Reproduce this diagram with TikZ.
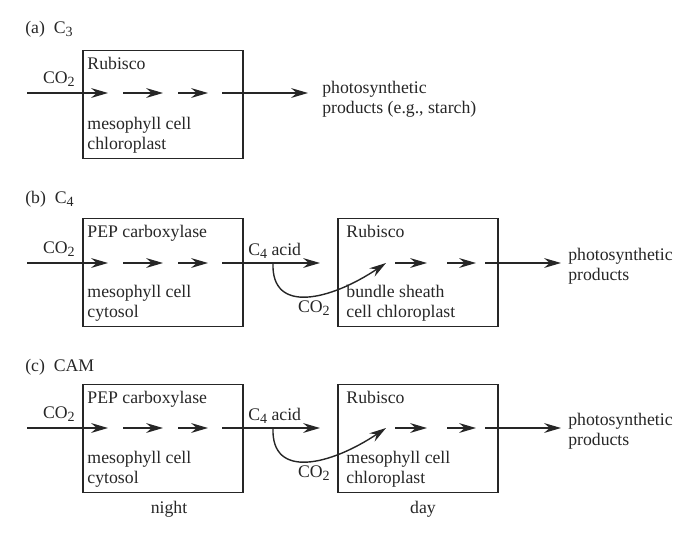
\documentclass[tikz,border=0pt]{standalone}
\usepackage{fontspec}
\setmainfont{Liberation Serif}
\usetikzlibrary{arrows.meta}
\newcommand\low[1]{\raisebox{-0.45ex}{\fontsize{10}{10}\selectfont #1}}

\begin{document}
\begin{tikzpicture}[x=0.025cm, y=-0.025cm]
    \tikzstyle{every node}=[inner sep=0pt, text=black!85, font=\fontsize{12.6}{14.2}\selectfont]
    \tikzstyle{cell}=[draw=black!85, line width=1.1pt, minimum width=4cm, minimum height=2.7cm]
    \tikzstyle{flow}=[black!85, line width=1pt, -{Stealth[length=12pt, width=7pt, inset=4pt]}]
    \useasboundingbox (0,0) rectangle (698,534);

    % the cells
    \node[cell] (mesoA) at (163,104.5) {};
    \node[cell] (mesoB) at (163,272.5) {};
    \node[cell] (sheathB) at (418,272.5) {};
    \node[cell] (mesoC) at (163,438.5) {};
    \node[cell] (chlorC) at (418,438.5) {};

    \node[anchor=base west] (titleA) at (25,33) {(a)\enspace C\low{3}};
    \node[anchor=base west] (titleB) at (25,203) {(b)\enspace C\low{4}};
    \node[anchor=base west] (titleC) at (25,371) {(c)\enspace CAM};

    \node[anchor=base west] (enzA) at ([shift={(5,20)}]mesoA.north west) {Rubisco};
    \node[anchor=base west, align=left] (siteA) at ([shift={(5,100)}]mesoA.north west) {mesophyll cell\\chloroplast};
    \node[anchor=base west] (enzB) at ([shift={(5,20)}]mesoB.north west) {PEP carboxylase};
    \node[anchor=base west, align=left] (siteB) at ([shift={(5,100)}]mesoB.north west) {mesophyll cell\\cytosol};
    \node[anchor=base west] (enzBB) at ([shift={(9,20)}]sheathB.north west) {Rubisco};
    \node[anchor=base west, align=left] (siteBB) at ([shift={(9,100)}]sheathB.north west) {bundle sheath\\cell chloroplast};
    \node[anchor=base west] (enzC) at ([shift={(5,20)}]mesoC.north west) {PEP carboxylase};
    \node[anchor=base west, align=left] (siteC) at ([shift={(5,100)}]mesoC.north west) {mesophyll cell\\cytosol};
    \node[anchor=base west] (enzCC) at ([shift={(9,20)}]chlorC.north west) {Rubisco};
    \node[anchor=base west, align=left] (siteCC) at ([shift={(9,100)}]chlorC.north west) {mesophyll cell\\chloroplast};

    \node[anchor=base] (night) at (169,513) {night};
    \node[anchor=base] (day) at (423,513) {day};

    % first cell, all three rows
    \foreach \r/\y in {a/93, b/263, c/428} {
        \foreach \i/\x in {0/27, 1/108, 2/123, 3/163, 4/178, 5/208, 6/222}
            \coordinate (\r\i) at (\x,\y);
        \draw[flow] (\r0) -- (\r1);
        \draw[flow] (\r2) -- (\r3);
        \draw[flow] (\r4) -- (\r5);
        \node[anchor=base east] (co\r) at (75,\y-10) {CO\low{2}};
    }

    \coordinate (a7) at (308,93);
    \draw[flow] (a6) -- (a7);
    \node[anchor=base west, align=left] (prodA) at (322,113) {photosynthetic\\products (e.g., starch)};

    % second cell, rows b and c
    \foreach \r/\y in {b/263, c/428} {
        \foreach \i/\x in {7/320, 8/273, 9/386, 10/395, 11/427, 12/447, 13/476, 14/485, 15/561}
            \coordinate (\r\i) at (\x,\y);
        \draw[flow] (\r6) -- (\r7);
        \draw[flow] (\r8) .. controls +(-2,52) and +(-55,37) .. (\r9);
        \draw[flow] (\r10) -- (\r11);
        \draw[flow] (\r12) -- (\r13);
        \draw[flow] (\r14) -- (\r15);
        \node[anchor=base west] (acid\r) at (248,\y-8) {C\low{4} acid};
        \node[anchor=base east] (released\r) at (330,\y+49) {CO\low{2}};
        \node[anchor=base west, align=left] (prod\r) at (568,\y+17) {photosynthetic\\products};
    }
\end{tikzpicture}
\end{document}
